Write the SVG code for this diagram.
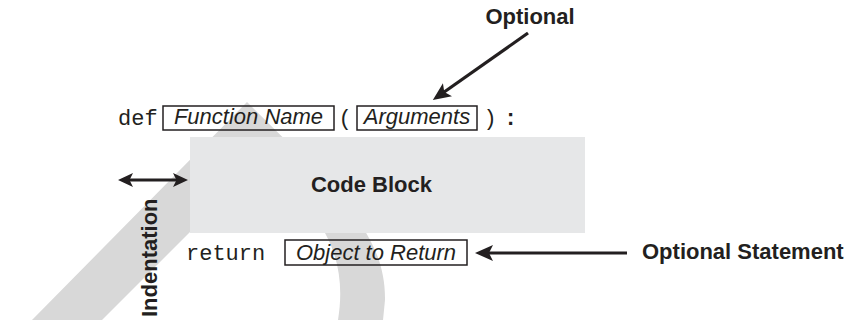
<svg xmlns="http://www.w3.org/2000/svg" width="849" height="320" viewBox="0 0 849 320">
<style>
.sans{font-family:"Liberation Sans",Arial,sans-serif;fill:#231f20}
.b{font-weight:bold;font-size:22px}
.it{font-style:italic;font-size:22px}
.mono{font-family:"Liberation Mono","Courier New",monospace;font-size:22px;fill:#231f20}
.box{fill:none;stroke:#231f20;stroke-width:1.5}
.conn{stroke:#231f20;fill:none}
</style>
<defs>
<marker id="head" viewBox="0 0 18 16" refX="8" refY="8" markerWidth="18" markerHeight="16" markerUnits="userSpaceOnUse" orient="auto-start-reverse">
<path d="M0,0 L18,8 L0,16 L4,8 Z" fill="#231f20"/>
</marker>
<marker id="headS" viewBox="0 0 15 14" refX="6" refY="7" markerWidth="15" markerHeight="14" markerUnits="userSpaceOnUse" orient="auto-start-reverse">
<path d="M0,0 L15,7 L0,14 L3.5,7 Z" fill="#231f20"/>
</marker>
</defs>
<rect width="849" height="320" fill="#ffffff"/>
<g id="watermark">
<path d="M32,320 L247,102 C330,185 386,230 385,300 L383,320 L338,320 C343,290 340,260 325,233 L257,165 L102,320 Z" fill="#d8d8d8"/>
</g>
<g id="code-block">
<rect x="190" y="137" width="395" height="96" fill="#e6e7e8"/>
<text class="sans b" x="371.5" y="192" text-anchor="middle">Code Block</text>
</g>
<g id="def-line">
<text class="mono" x="118" y="125">def</text>
<text class="mono" x="345" y="125" text-anchor="middle">(</text>
<text class="mono" x="490" y="125" text-anchor="middle">)</text>
<text class="mono" x="510.5" y="125" text-anchor="middle" font-weight="bold">:</text>
</g>
<g id="function-name">
<rect class="box" x="163" y="106" width="171" height="24"/>
<text class="sans it" x="248.5" y="124" text-anchor="middle">Function Name</text>
</g>
<g id="arguments">
<rect class="box" x="357" y="106" width="120" height="24"/>
<text class="sans it" x="417" y="124" text-anchor="middle">Arguments</text>
</g>
<g id="return-line">
<text class="mono" x="186" y="260">return</text>
</g>
<g id="object-to-return">
<rect class="box" x="285" y="240" width="182" height="25"/>
<text class="sans it" x="376" y="260" text-anchor="middle">Object to Return</text>
</g>
<g id="optional">
<text class="sans b" x="530" y="24" text-anchor="middle">Optional</text>
</g>
<g id="optional-statement">
<text class="sans b" x="642" y="259">Optional Statement</text>
</g>
<g id="indentation">
<text class="sans b" transform="translate(157,317) rotate(-90)">Indentation</text>
</g>
<g id="connectors">
<line class="conn" x1="528" y1="33" x2="441" y2="94.3" stroke-width="3.2" marker-end="url(#head)"/>
<line class="conn" x1="627" y1="253" x2="485" y2="253" stroke-width="3.2" marker-end="url(#head)"/>
<line class="conn" x1="127" y1="180" x2="179" y2="180" stroke-width="2.8" marker-start="url(#headS)" marker-end="url(#headS)"/>
</g>
</svg>
